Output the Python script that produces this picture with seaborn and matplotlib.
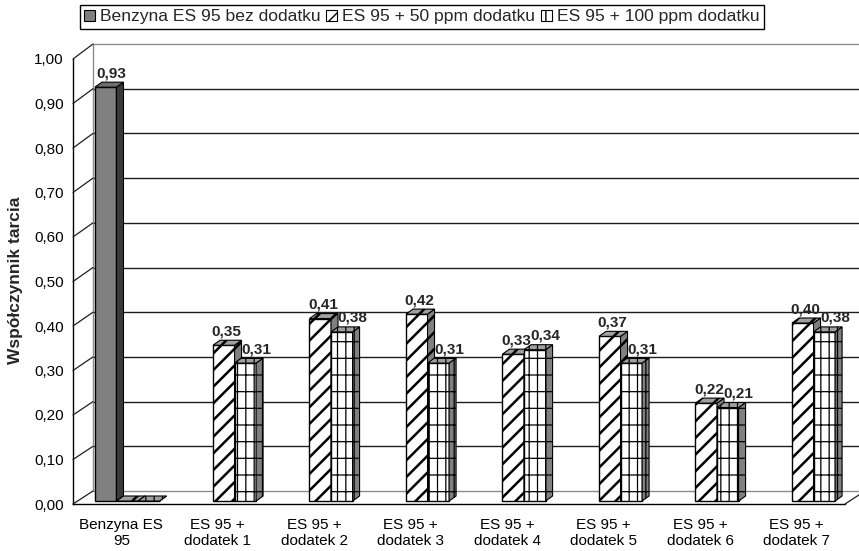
import numpy as np
import pandas as pd
import matplotlib
matplotlib.use("Agg")
import matplotlib.pyplot as plt
import seaborn as sns
from matplotlib.patches import Polygon, Patch
from matplotlib.lines import Line2D
from matplotlib.transforms import IdentityTransform, offset_copy

# ---- data ----
categories = ["Benzyna ES\n95", "ES 95 +\ndodatek 1", "ES 95 +\ndodatek 2", "ES 95 +\ndodatek 3",
              "ES 95 +\ndodatek 4", "ES 95 +\ndodatek 5", "ES 95 +\ndodatek 6", "ES 95 +\ndodatek 7"]
series_names = ["Benzyna ES 95 bez dodatku", "ES 95 + 50 ppm dodatku", "ES 95 + 100 ppm dodatku"]
bez_dodatku = [0.93, None, None, None, None, None, None, None]
ppm_50 = [0.00, 0.35, 0.41, 0.42, 0.33, 0.37, 0.22, 0.40]
ppm_100 = [0.00, 0.31, 0.38, 0.31, 0.34, 0.31, 0.21, 0.38]
y_ticks = [0.0, 0.1, 0.2, 0.3, 0.4, 0.5, 0.6, 0.7, 0.8, 0.9, 1.0]
y_label = "Współczynnik tarcia"

rows = []
for name, vals in zip(series_names, [bez_dodatku, ppm_50, ppm_100]):
    for cat, v in zip(categories, vals):
        if v is not None:
            rows.append({"kategoria": cat, "seria": name, "wartosc": v})
df = pd.DataFrame(rows)

# ---- styling ----
sns.set_style("white")
plt.rcParams["font.family"] = ["Liberation Sans", "DejaVu Sans"]

front_colors = ["#808080", "#ffffff", "#ffffff"]
side_colors = ["#3a3a3a", "#808080", "#808080"]
top_colors = ["#6e6e6e", "#a0a0a0", "#a0a0a0"]
hatches = ["", "//", "||-"]
hatch_widths = [1.0, 1.8, 0.9]
label_dx = [6, 3, 11]          # horizontal nudge of value labels (px)
depth_dx, depth_dy = 7, 5      # bar depth (px)

W, H = 859, 551
fig = plt.figure(figsize=(W / 100, H / 100), dpi=100)
fig.patch.set_facecolor("white")

# back wall (gridlines) and front plane (axes, bars)
ax_back = fig.add_axes([93 / W, 1 - 491 / H, 772 / W, 447 / H], zorder=0)
ax = fig.add_axes([73 / W, 1 - 504 / H, 772 / W, 445 / H], zorder=1)

ax_back.set_xlim(0, 1)
ax_back.set_ylim(0, 1)
ax_back.axis("off")
for v in y_ticks:
    edge = v in (y_ticks[0], y_ticks[-1])
    ax_back.axhline(v, color="#8c8c8c" if edge else "#1e1e1e", lw=1.0, clip_on=False)
ax_back.axvline(0, color="#8c8c8c", lw=1.0, clip_on=False)

sns.barplot(data=df, x="kategoria", y="wartosc", hue="seria", order=categories,
            hue_order=series_names, palette=front_colors, width=0.67, dodge=True,
            saturation=1, edgecolor="black", linewidth=1.0, errorbar=None,
            legend=False, ax=ax)

ax.set_autoscale_on(False)
ax.set_xlim(-0.5, len(categories) - 0.5)
ax.set_ylim(0, 1)
ax.patch.set_visible(False)
for s in ["top", "right"]:
    ax.spines[s].set_visible(False)
for s in ["left", "bottom"]:
    ax.spines[s].set_color("black")
    ax.spines[s].set_linewidth(1.0)

ax.set_yticks(y_ticks)
ax.set_yticklabels([f"{t:.2f}".replace(".", ",") for t in y_ticks])
ax.tick_params(axis="y", direction="out", length=4.3, width=0.8, pad=2.5,
               labelsize=11, colors="black")
ax.set_xticks(range(len(categories)))
ax.set_xticklabels(categories, fontsize=11, linespacing=1.2)
ax.set_xticks(np.arange(-0.5, len(categories), 1.0), minor=True)
ax.tick_params(axis="x", which="major", length=0, pad=10, colors="black")
ax.tick_params(axis="x", which="minor", direction="out", length=5, width=0.8, colors="black")
ax.set_xlabel("")
ax.set_ylabel(y_label, fontsize=12.5, fontweight="bold", va="center")
ax.yaxis.set_label_coords(-0.074, 0.503)

# side wall and floor edges joining the front plane to the back wall
def line_px(p, q, color, lw=0.9):
    fig.add_artist(Line2D([p[0], q[0]], [p[1], q[1]], transform=IdentityTransform(),
                          color=color, lw=lw))

for v in y_ticks:
    p = ax.transData.transform((-0.5, v))
    q = ax_back.transData.transform((0, v))
    line_px(p, q, "#1e1e1e")
line_px(ax.transData.transform((len(categories) - 0.5, 0)),
        ax_back.transData.transform((1, 0)), "#1e1e1e")

# 3-D bar faces
bar_trans = offset_copy(ax.transData, fig=fig, x=6, y=3, units="dots")
bars = [p for p in ax.patches if np.isfinite(p.get_height())]
bars.sort(key=lambda p: p.get_x())
slot_w = 0.67 / len(series_names)
for i, p in enumerate(bars):
    xc = p.get_x() + p.get_width() / 2
    slot = int(round((xc - round(xc)) / slot_w)) + 1
    z = 3 + i * 0.1
    p.set_transform(bar_trans)
    p.set_zorder(z)
    p.set_hatch(hatches[slot])
    if hasattr(p, "set_hatch_linewidth"):
        p.set_hatch_linewidth(hatch_widths[slot])
    (x0, y0), (x1, y1) = bar_trans.transform(
        [(p.get_x(), p.get_y()), (p.get_x() + p.get_width(), p.get_y() + p.get_height())])
    side = Polygon([(x1, y0), (x1 + depth_dx, y0 + depth_dy), (x1 + depth_dx, y1 + depth_dy), (x1, y1)],
                   closed=True, transform=IdentityTransform(), facecolor=side_colors[slot],
                   edgecolor="black", lw=0.8, hatch=hatches[slot], zorder=z + 0.05, clip_on=False)
    top = Polygon([(x0, y1), (x0 + depth_dx, y1 + depth_dy), (x1 + depth_dx, y1 + depth_dy), (x1, y1)],
                  closed=True, transform=IdentityTransform(), facecolor=top_colors[slot],
                  edgecolor="black", lw=0.8, hatch=hatches[slot], zorder=z + 0.05, clip_on=False)
    for f in (side, top):
        if hasattr(f, "set_hatch_linewidth"):
            f.set_hatch_linewidth(hatch_widths[slot])
        ax.add_patch(f)
    val = p.get_height()
    if val > 0:
        ax.text((x0 + x1) / 2 + label_dx[slot], y1 + depth_dy + 5,
                f"{val:.2f}".replace(".", ","), transform=IdentityTransform(),
                ha="center", va="baseline", fontsize=11, fontweight="bold",
                zorder=20, clip_on=False)

# legend
handles = [Patch(facecolor=front_colors[k], edgecolor="black", hatch=hatches[k], lw=0.8)
           for k in range(len(series_names))]
leg = fig.legend(handles, series_names, loc="upper left", bbox_to_anchor=(80 / W, 1 - 5 / H),
                 ncol=3, frameon=True, fancybox=False, edgecolor="black", framealpha=1,
                 fontsize=12.6, handlelength=0.62, handleheight=0.62, handletextpad=0.3,
                 columnspacing=0.3, borderpad=0.25, borderaxespad=0)
leg.get_frame().set_linewidth(1.0)

fig.savefig("out.png", dpi=100)
